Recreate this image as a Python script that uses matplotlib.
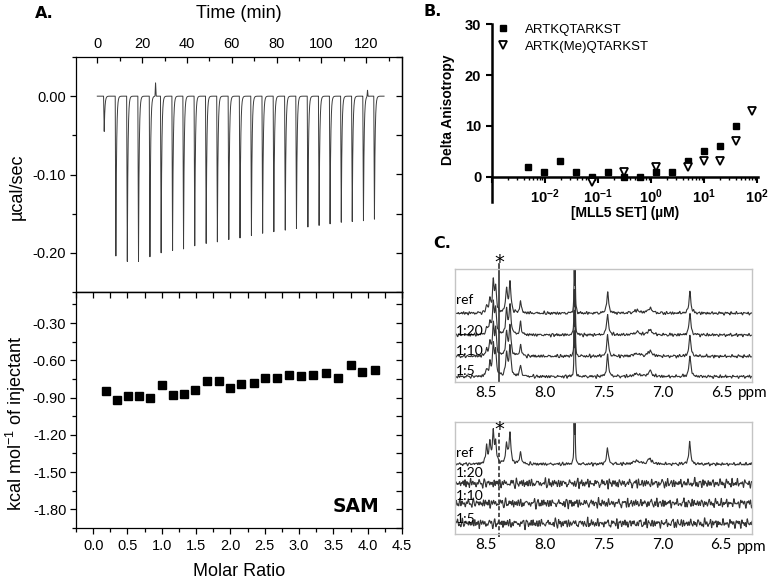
import numpy as np
import matplotlib
matplotlib.use("Agg")
import matplotlib.pyplot as plt
from matplotlib.ticker import (MultipleLocator, FixedLocator, FixedFormatter,
                               LogLocator, NullFormatter, FormatStrFormatter)

plt.rcParams['font.family'] = ['Liberation Sans', 'DejaVu Sans']
plt.rcParams['mathtext.fontset'] = 'custom'
plt.rcParams['mathtext.rm'] = 'Liberation Sans'
plt.rcParams['mathtext.it'] = 'Liberation Sans:italic'
plt.rcParams['mathtext.bf'] = 'Liberation Sans:bold'
plt.rcParams['axes.unicode_minus'] = False

# ---------------- DATA ----------------
# Panel A (top): ITC raw injections
inj_time = [2.8, 8.0, 13.1, 18.1, 23.2, 28.2, 33.3, 38.2, 43.2, 48.3, 53.3, 58.4, 63.4,
            68.5, 73.5, 78.5, 83.6, 88.6, 93.7, 98.7, 103.6, 108.6, 113.5, 118.5, 123.4]
inj_depth = [-0.045, -0.204, -0.211, -0.211, -0.205, -0.200, -0.197, -0.195, -0.191,
             -0.188, -0.186, -0.183, -0.181, -0.178, -0.175, -0.173, -0.171, -0.169,
             -0.167, -0.165, -0.163, -0.161, -0.160, -0.159, -0.157]
artifact_time = [26.0, 120.6]
artifact_height = [0.017, 0.008]

# Panel A (bottom): integrated heats
molar_ratio = [0.19, 0.35, 0.51, 0.67, 0.83, 1.00, 1.16, 1.32, 1.49, 1.66, 1.83, 1.99,
               2.16, 2.34, 2.51, 2.68, 2.85, 3.03, 3.20, 3.39, 3.57, 3.75, 3.92, 4.11]
heat = [-0.85, -0.92, -0.89, -0.89, -0.905, -0.80, -0.88, -0.875, -0.84, -0.77, -0.765,
        -0.82, -0.79, -0.78, -0.745, -0.74, -0.72, -0.725, -0.72, -0.70, -0.74, -0.64,
        -0.695, -0.675]

# Panel B: fluorescence anisotropy
conc = [0.0049, 0.0098, 0.0195, 0.039, 0.078, 0.156, 0.3125, 0.625, 1.25, 2.5, 5, 10, 20, 40]
aniso_unmod = [2, 1, 3, 1, 0, 1, 0, 0, 1, 1, 3, 5, 6, 10]
conc_me = [0.078, 0.3125, 1.25, 5, 10, 20, 40, 80]
aniso_me = [-1, 1, 2, 2, 3, 3, 7, 13]
series_names = ['ARTKQTARKST', 'ARTK(Me)QTARKST']

# Panel C: NMR peaks
peak_ppm = [8.497, 8.469, 8.440, 8.420, 8.327, 8.298, 8.208, 7.752, 7.744, 7.468, 7.22, 7.108, 6.768]
peak_hwhm = [0.008, 0.008, 0.008, 0.008, 0.009, 0.009, 0.008, 0.003, 0.003, 0.009, 0.03, 0.02, 0.009]
peak_height_top = [0.33, 0.65, 1.5, 1.2, 1.15, 1.46, 0.57, 2.0, 2.0, 1.05, 0.13, 0.25, 1.07]
peak_height_bottom = [0.87, 1.05, 1.5, 1.0, 0.95, 1.48, 0.62, 2.0, 2.0, 0.8, 0.16, 0.26, 1.1]
trace_names = ['ref', '1:20', '1:10', '1:5']
star_ppm = 8.389
ppm_ticks = [8.5, 8.0, 7.5, 7.0, 6.5]

# ---------------- FIGURE ----------------
W, H = 776, 581
fig = plt.figure(figsize=(W / 100, H / 100), dpi=100)


def box(l, t, r, b):
    return [l / W, 1 - b / H, (r - l) / W, (b - t) / H]


def fx(x):
    return x / W


def fy(y):
    return 1 - y / H


TICK_FS = 10.5
LAB_FS = 13

# ---- Panel A top ----
ax1 = fig.add_axes(box(76, 57, 402, 292))
t = np.arange(0, 128, 0.01)
trace = np.zeros_like(t)
for ti, d in zip(inj_time, inj_depth):
    s = t - ti
    rise = (s >= 0) & (s < 0.3)
    trace[rise] += d * s[rise] / 0.3
    fall = s >= 0.3
    trace[fall] += d * np.exp(-(s[fall] - 0.3) / 0.3)
for ta, ha in zip(artifact_time, artifact_height):
    trace += ha * np.exp(-((t - ta) / 0.15) ** 2)
ax1.plot(t, trace, color='#3c3c3c', lw=0.7)
ax1.set_xlim(-9.5, 136)
ax1.set_ylim(-0.25, 0.05)
ax1.xaxis.set_major_locator(MultipleLocator(20))
ax1.xaxis.set_minor_locator(MultipleLocator(10))
ax1.yaxis.set_major_locator(MultipleLocator(0.1))
ax1.yaxis.set_minor_locator(MultipleLocator(0.05))
ax1.yaxis.set_major_formatter(FormatStrFormatter('%.2f'))
ax1.tick_params(axis='x', which='both', top=True, bottom=False, labeltop=True,
                labelbottom=False, direction='in', labelsize=TICK_FS, pad=4)
ax1.tick_params(axis='y', which='both', left=True, right=False, direction='out',
                labelsize=TICK_FS, pad=2.5)
ax1.tick_params(which='major', length=4.5, width=0.9)
ax1.tick_params(which='minor', length=3, width=0.9)
sec1 = ax1.secondary_yaxis('right')
sec1.yaxis.set_major_locator(MultipleLocator(0.05))
sec1.tick_params(direction='in', labelright=False, length=4, width=0.9)
for sp in list(ax1.spines.values()) + list(sec1.spines.values()):
    sp.set_linewidth(0.9)

fig.text(fx(239), fy(14), 'Time (min)', ha='center', va='center', fontsize=LAB_FS)
fig.text(fx(17), fy(187), 'µcal/sec', ha='center', va='center', rotation=90, fontsize=LAB_FS)

# ---- Panel A bottom ----
ax2 = fig.add_axes(box(76, 292, 402, 528))
ax2.plot(molar_ratio, heat, 's', color='black', ms=5.2, mec='black')
ax2.set_xlim(-0.25, 4.5)
ax2.set_ylim(-1.95, -0.05)
ax2.xaxis.set_major_locator(MultipleLocator(0.5))
ax2.xaxis.set_minor_locator(MultipleLocator(0.25))
ax2.xaxis.set_major_formatter(FormatStrFormatter('%.1f'))
ax2.yaxis.set_major_locator(MultipleLocator(0.3))
ax2.yaxis.set_minor_locator(MultipleLocator(0.15))
ax2.yaxis.set_major_formatter(FormatStrFormatter('%.2f'))
ax2.tick_params(which='both', direction='out', top=False, right=False, labelsize=TICK_FS)
ax2.tick_params(axis='y', pad=2.5)
ax2.tick_params(which='major', length=4.5, width=0.9)
ax2.tick_params(which='minor', length=3, width=0.9)
sec2x = ax2.secondary_xaxis('top')
sec2x.xaxis.set_major_locator(MultipleLocator(0.25))
sec2x.tick_params(direction='in', labeltop=False, length=4, width=0.9)
sec2y = ax2.secondary_yaxis('right')
sec2y.yaxis.set_major_locator(MultipleLocator(0.15))
sec2y.tick_params(direction='in', labelright=False, length=4, width=0.9)
for sp in list(ax2.spines.values()) + list(sec2x.spines.values()) + list(sec2y.spines.values()):
    sp.set_linewidth(0.9)

fig.text(fx(239), fy(571), 'Molar Ratio', ha='center', va='center', fontsize=LAB_FS)
fig.text(fx(16), fy(423), 'kcal mol$^{-1}$ of injectant', ha='center', va='center',
         rotation=90, fontsize=LAB_FS)
fig.text(fx(356), fy(507), 'SAM', ha='center', va='center', fontsize=13.5,
         family='DejaVu Sans', weight='bold')

# ---- Panel B ----
axB = fig.add_axes(box(491.7, 24.3, 758, 202.1))
axB.set_xscale('log')
axB.plot(conc, aniso_unmod, 's', color='black', ms=5, label=series_names[0])
axB.plot(conc_me, aniso_me, 'v', mfc='white', mec='black', mew=1.3, ms=5.5,
         label=series_names[1])
axB.set_xlim(1e-3, 1.035e2)
axB.set_ylim(-5, 30)
axB.spines['top'].set_visible(False)
axB.spines['right'].set_visible(False)
axB.spines['bottom'].set_position(('data', 0))
axB.spines['left'].set_linewidth(1.8)
axB.spines['bottom'].set_linewidth(1.8)
axB.yaxis.set_major_locator(FixedLocator([0, 10, 20, 30]))
axB.xaxis.set_major_locator(FixedLocator([1e-3, 1e-2, 1e-1, 1e0, 1e1, 1e2]))
axB.xaxis.set_major_formatter(FixedFormatter(
    ['', r'$\mathbf{10^{-2}}$', r'$\mathbf{10^{-1}}$', r'$\mathbf{10^{0}}$',
     r'$\mathbf{10^{1}}$', r'$\mathbf{10^{2}}$']))
axB.xaxis.set_minor_locator(LogLocator(base=10, subs=np.arange(2, 10), numticks=20))
axB.xaxis.set_minor_formatter(NullFormatter())
axB.tick_params(which='major', direction='out', length=4, width=1.5, labelsize=10.5)
axB.tick_params(which='minor', direction='out', length=2.5, width=1.0)
for lab in axB.get_yticklabels():
    lab.set_fontweight('bold')
axB.legend(loc='upper left', bbox_to_anchor=(fx(496.4), fy(23.5)),
           bbox_transform=fig.transFigure, frameon=False, fontsize=9.5,
           handlelength=1.0, handletextpad=1.15, borderpad=0, borderaxespad=0,
           labelspacing=0.35, markerscale=1.0)

fig.text(fx(448), fy(110), 'Delta Anisotropy', ha='center', va='center', rotation=90,
         fontsize=10, weight='bold')
fig.text(fx(625), fy(213), '[MLL5 SET] (µM)', ha='center', va='center', fontsize=10,
         weight='bold')

# ---- Panel C ----
ppm = np.arange(6.2, 8.8, 0.0005)
tex_freqs = [89, 113, 137, 158, 181, 207, 229, 254, 277, 301, 326, 353, 379, 404, 431]


def texture(x, shift):
    tot = np.zeros_like(x)
    for k, f in enumerate(tex_freqs):
        tot += np.sin(f * x + shift * (k + 1) * 1.37 + k * k * 0.61)
    return tot / np.sqrt(len(tex_freqs) / 2)


def spectrum(x, heights):
    out = np.zeros_like(x)
    for p, w, h in zip(peak_ppm, peak_hwhm, heights):
        out += h * w ** 2 / ((x - p) ** 2 + w ** 2)
    return out


def style_nmr(ax, ppm_y):
    ax.set_xlim(8.766, 6.238)
    ax.set_ylim(0, 5.55)
    ax.set_yticks([])
    ax.set_xticks(ppm_ticks)
    ax.xaxis.set_major_formatter(FormatStrFormatter('%.1f'))
    ax.tick_params(axis='x', length=0, pad=3, labelsize=11)
    for lab in ax.get_xticklabels():
        lab.set_family('Lato')
    for sp in ax.spines.values():
        sp.set_color('#c4c4c4')
        sp.set_linewidth(1.0)
    ax.text(1.0, ppm_y, 'ppm', transform=ax.transAxes, ha='center', va='center',
            fontsize=11, family='Lato')


LINE_C = '#333333'

axC1 = fig.add_axes(box(455, 269, 752.3, 381.7))
style_nmr(axC1, -0.10)
bases1 = [3.37, 2.30, 1.25, 0.25]
labels_y1 = [4.02, 2.52, 1.52, 0.55]
spec_top = spectrum(ppm, peak_height_top)
for k, (b, name, ly) in enumerate(zip(bases1, trace_names, labels_y1)):
    axC1.plot(ppm, b + spec_top + 0.035 * texture(ppm, k), color=LINE_C, lw=0.8)
    axC1.text(8.757, ly, name, ha='left', va='center', fontsize=10, family='Lato')
axC1.plot([star_ppm, star_ppm], [0, 5.8], color='#333333', lw=1.2, clip_on=False)
axC1.text(star_ppm, 5.85, '*', ha='center', va='center', fontsize=14,
          family='DejaVu Sans')

axC2 = fig.add_axes(box(455, 422.3, 752, 534))
style_nmr(axC2, -0.114)
bases2 = [3.47, 2.52, 1.53, 0.53]
labels_y2 = [4.03, 3.01, 1.89, 0.75]
spec_bot = spectrum(ppm, peak_height_bottom)
for k, (b, name, ly) in enumerate(zip(bases2, trace_names, labels_y2)):
    if k == 0:
        y = b + spec_bot + 0.035 * texture(ppm, 7)
    else:
        y = b + 0.1 * texture(ppm, 3 * k + 11)
    axC2.plot(ppm, y, color=LINE_C, lw=0.8)
    axC2.text(8.757, ly, name, ha='left', va='center', fontsize=10, family='Lato')
axC2.plot([star_ppm, star_ppm], [-0.15, 5.05], color='#333333', lw=1.2, ls=(0, (2.5, 1.5)),
          clip_on=False)
axC2.text(star_ppm, 5.2, '*', ha='center', va='center', fontsize=14, family='DejaVu Sans')

# Panel letters
fig.text(fx(35), fy(13), 'A.', ha='left', va='center', fontsize=11.5,
         family='DejaVu Sans', weight='bold')
fig.text(fx(424), fy(12), 'B.', ha='left', va='center', fontsize=11.5,
         family='DejaVu Sans', weight='bold')
fig.text(fx(433), fy(243), 'C.', ha='left', va='center', fontsize=11.5,
         family='DejaVu Sans', weight='bold')

fig.savefig('out.png', dpi=100)
